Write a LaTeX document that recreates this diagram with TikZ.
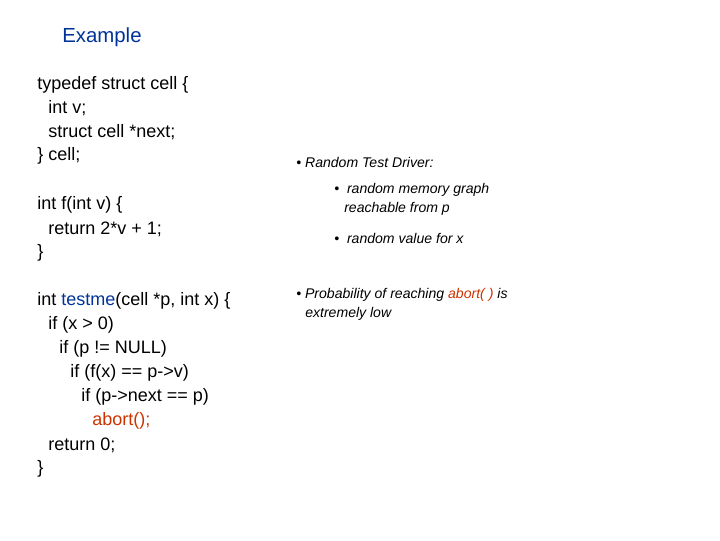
\documentclass[tikz,border=0pt]{standalone}
\usepackage{fontspec}
\setmainfont{Liberation Sans}
\definecolor{titleblue}{RGB}{0,51,153}
\definecolor{abortred}{RGB}{204,51,0}
\begin{document}
\begin{tikzpicture}[x=0.025cm, y=-0.025cm,
        code/.style={anchor=west, inner sep=0pt, font=\fontsize{12.8}{15}\selectfont},
        note/.style={anchor=west, inner sep=0pt, font=\fontsize{10}{12}\selectfont\itshape}
    ]
        \useasboundingbox (0,0) rectangle (720,540);
        % Title
        \node[code, text=titleblue, font=\fontsize{14.5}{17}\selectfont] (title) at (62,37) {Example};

        % Code
        \node[code] (l1) at (37,85) {typedef struct cell \{};
        \node[code] (l2) at (48,108) {int v;};
        \node[code] (l3) at (48,132) {struct cell *next;};
        \node[code] (l4) at (37,156) {\} cell;};
        \node[code] (l5) at (37,205) {int f(int v) \{};
        \node[code] (l6) at (48,229) {return 2*v + 1;};
        \node[code] (l7) at (37,253) {\}};
        \node[code] (l8) at (37,301) {int \textcolor{titleblue}{testme}(cell *p, int x) \{};
        \node[code] (l9) at (48,325) {if (x > 0)};
        \node[code] (l10) at (59,349) {if (p != NULL)};
        \node[code] (l11) at (70,373) {if (f(x) == p->v)};
        \node[code] (l12) at (81,397) {if (p->next == p)};
        \node[code, text=abortred] (l13) at (92,421) {abort();};
        \node[code] (l14) at (48,445) {return 0;};
        \node[code] (l15) at (37,469) {\}};

        % Notes
        \node[note] (n1) at (296,162) {• Random Test Driver:};
        \node[note] (n2) at (334,190) {• \ random memory graph};
        \node[note] (n3) at (344,209) {reachable from p};
        \node[note] (n4) at (334,238) {• \ random value for x};
        \node[note] (n5) at (296,295) {• Probability of reaching \textcolor{abortred}{abort( )} is};
        \node[note] (n6) at (305,314) {extremely low};
    \end{tikzpicture}
\end{document}
